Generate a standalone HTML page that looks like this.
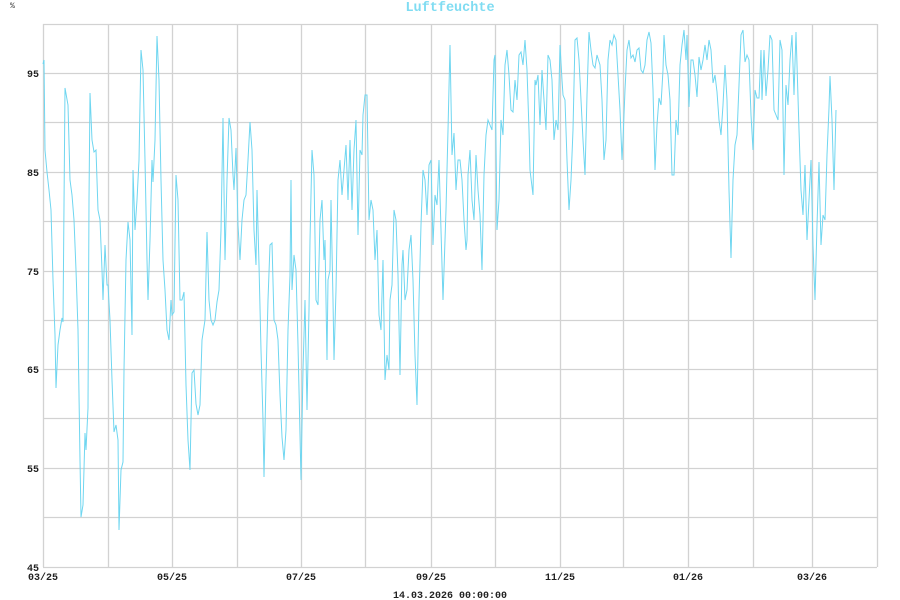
<!DOCTYPE html>
<html><head><meta charset="utf-8"><style>
html,body{margin:0;padding:0;background:#fff;width:900px;height:600px;overflow:hidden}
</style></head><body>
<svg width="900" height="600" xmlns="http://www.w3.org/2000/svg" font-family="Liberation Mono, monospace">
<rect width="900" height="600" fill="#fff"/>
<g stroke="#d2d2d2" stroke-width="1.3">
<line x1="43" y1="24.5" x2="877" y2="24.5"/><line x1="43" y1="73.5" x2="877" y2="73.5"/><line x1="43" y1="122.5" x2="877" y2="122.5"/><line x1="43" y1="172.5" x2="877" y2="172.5"/><line x1="43" y1="221.5" x2="877" y2="221.5"/><line x1="43" y1="271.5" x2="877" y2="271.5"/><line x1="43" y1="320.5" x2="877" y2="320.5"/><line x1="43" y1="369.5" x2="877" y2="369.5"/><line x1="43" y1="418.5" x2="877" y2="418.5"/><line x1="43" y1="468.5" x2="877" y2="468.5"/><line x1="43" y1="517.5" x2="877" y2="517.5"/><line x1="43" y1="567.5" x2="877" y2="567.5"/>
<line x1="43.5" y1="24" x2="43.5" y2="567"/><line x1="108.5" y1="24" x2="108.5" y2="567"/><line x1="172.5" y1="24" x2="172.5" y2="567"/><line x1="237.5" y1="24" x2="237.5" y2="567"/><line x1="301.5" y1="24" x2="301.5" y2="567"/><line x1="365.5" y1="24" x2="365.5" y2="567"/><line x1="431.5" y1="24" x2="431.5" y2="567"/><line x1="495.5" y1="24" x2="495.5" y2="567"/><line x1="560.5" y1="24" x2="560.5" y2="567"/><line x1="623.5" y1="24" x2="623.5" y2="567"/><line x1="688.5" y1="24" x2="688.5" y2="567"/><line x1="753.5" y1="24" x2="753.5" y2="567"/><line x1="812.5" y1="24" x2="812.5" y2="567"/><line x1="877.5" y1="24" x2="877.5" y2="567"/>
</g>
<polyline fill="none" stroke="#6fd6f0" stroke-width="1" points="43,64 44,60 45,150 47,172 49,190 51,210 53,280 55,335 56,388 58,345 60,330 62,318 63,322 65,88 68,105 70,180 72,195 74,220 76,270 78,330 80,460 81,517 83,505 85,433 86,450 88,408 89,200 90,93 92,140 94,152 96,150 98,210 100,220 102,270 103,300 105,245 107,285 108,285 110,320 112,380 114,432 116,425 118,440 119,530 121,470 123,462 124,370 126,260 128,222 130,240 132,335 133,170 135,230 137,200 139,160 141,50 143,70 145,160 147,260 148,300 150,240 152,160 153,182 155,140 157,36 159,80 161,180 163,260 165,290 167,330 169,340 171,300 172,315 174,312 176,175 178,200 180,300 182,300 184,292 186,385 188,440 190,470 192,373 194,370 196,404 198,415 200,405 202,340 205,320 207,232 209,300 211,320 213,325 215,320 217,302 219,290 221,230 223,118 225,260 227,180 229,118 231,130 233,175 234,190 236,148 238,225 240,260 242,220 244,200 246,195 248,160 250,122 252,150 254,230 256,265 257,190 259,265 261,350 263,420 264,477 266,380 268,300 270,245 272,243 274,320 276,325 278,340 280,395 282,437 284,460 286,430 288,330 290,275 291,180 292,290 294,255 296,270 298,345 300,435 301,480 303,370 305,300 307,410 309,310 310,240 312,150 314,175 316,300 318,305 320,220 322,200 324,260 325,240 327,360 328,280 330,270 331,200 333,300 334,360 336,290 338,180 340,160 342,195 344,170 346,145 348,200 350,140 352,210 354,150 356,120 358,235 360,150 362,155 363,115 365,95 367,95 369,220 371,200 373,210 375,260 377,230 379,315 381,330 383,260 385,380 387,355 389,370 390,300 392,285 394,210 396,220 398,275 400,375 402,265 403,250 405,300 407,290 409,250 411,235 413,280 415,355 417,405 419,300 421,225 423,170 425,180 427,215 429,165 431,160 433,245 435,195 437,205 439,160 441,230 443,300 444,270 446,210 448,130 450,45 452,155 454,133 456,190 458,160 460,160 462,180 464,220 466,250 467,240 468,175 470,150 472,200 474,220 476,155 478,190 480,215 482,270 484,175 486,135 488,120 490,125 492,130 494,60 495,55 497,230 499,200 501,120 503,135 505,65 507,50 509,75 511,110 513,112 515,80 517,100 519,55 521,52 523,65 525,40 527,70 529,130 530,170 533,195 535,80 536,85 538,75 540,125 542,70 544,100 546,130 548,55 550,60 552,80 554,140 556,120 558,130 560,45 562,80 563,95 565,100 567,160 569,210 571,180 573,130 575,40 577,38 579,60 581,100 583,140 585,175 587,95 589,32 591,50 593,65 595,68 597,55 600,65 602,100 604,160 606,140 608,60 610,40 612,45 614,35 616,40 618,75 620,110 622,160 623,140 625,90 627,50 629,40 631,58 633,55 635,62 637,50 639,48 641,70 643,73 645,65 647,40 649,32 651,43 653,90 655,170 657,125 659,98 661,105 663,70 664,35 666,65 668,75 670,100 672,175 674,175 676,120 678,135 680,65 682,45 684,30 686,60 687,35 689,107 691,60 693,60 695,75 697,97 699,57 701,70 703,60 705,45 707,60 709,40 711,50 713,83 715,75 717,92 719,120 721,135 723,105 725,65 727,100 729,190 731,258 733,180 735,145 737,135 739,85 741,35 743,30 745,62 747,55 749,60 751,115 753,150 755,90 757,98 759,98 761,50 762,100 764,50 766,96 768,70 770,35 772,40 774,110 776,115 778,120 780,40 782,50 784,175 786,85 788,105 790,60 792,35 794,95 796,32 799,130 801,190 803,215 805,165 807,240 809,200 811,160 813,245 815,300 817,225 819,162 821,245 823,215 825,220 827,155 829,108 830,76 832,120 834,190 836,110"/>
<text x="450" y="11" text-anchor="middle" font-size="13.5" font-weight="bold" fill="#7fdcf2">Luftfeuchte</text>
<text x="10" y="8" font-size="8" fill="#333">%</text>
<g font-size="10" font-weight="bold" fill="#222" text-anchor="end">
<text x="39" y="77">95</text><text x="39" y="176">85</text><text x="39" y="275">75</text><text x="39" y="373">65</text><text x="39" y="472">55</text><text x="39" y="571">45</text>
</g>
<g font-size="10" font-weight="bold" fill="#222" text-anchor="middle">
<text x="43" y="580">03/25</text><text x="172" y="580">05/25</text><text x="301" y="580">07/25</text><text x="431" y="580">09/25</text><text x="560" y="580">11/25</text><text x="688" y="580">01/26</text><text x="812" y="580">03/26</text>
<text x="450" y="598">14.03.2026 00:00:00</text>
</g>
</svg>
</body></html>
